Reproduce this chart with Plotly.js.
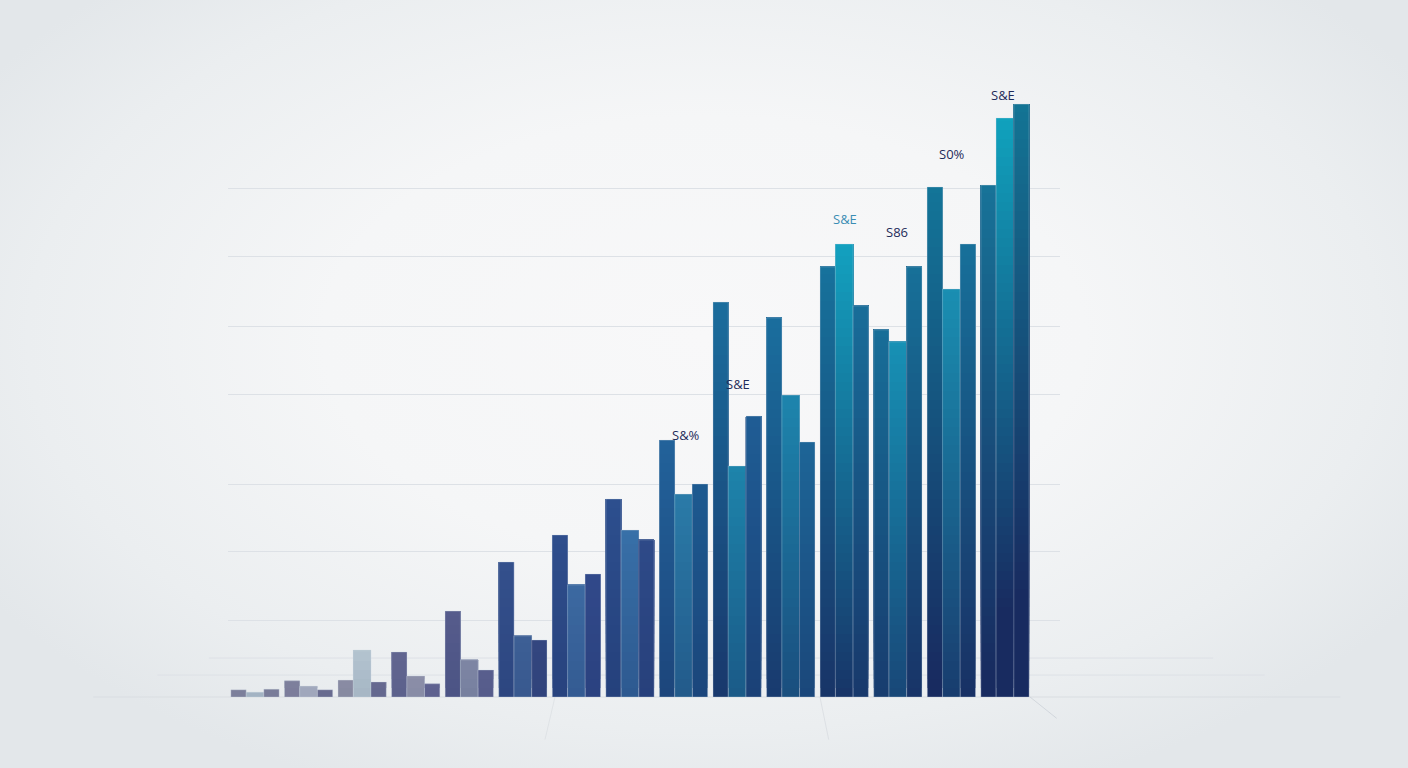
<!DOCTYPE html>
<html>
<head>
<meta charset="utf-8">
<script src="https://cdn.plot.ly/plotly-3.0.1.min.js"></script>
<style>
  html, body {
    margin: 0;
    padding: 0;
    width: 1408px;
    height: 768px;
    overflow: hidden;
    background: radial-gradient(ellipse 60% 64% at 50% 44%, #f8f8f9 0%, #f5f6f7 45%, #ebeef0 80%, #e3e7ea 100%);
  }
  #chart { width: 1408px; height: 768px; }
</style>
</head>
<body>
<div id="chart"></div>
<script>
// Data (heights on a 0-100 scale)
const periods = [1, 2, 3, 4, 5, 6, 7, 8, 9, 10, 11, 12, 13, 14, 15];
const seriesA = [1.2, 2.7, 2.8, 7.5, 14.3, 22.5, 27.0, 33.0, 42.8, 65.8, 63.2, 71.7, 61.2, 85.0, 85.3];
const seriesB = [0.8, 1.8, 7.8, 3.5, 6.2, 10.2, 18.7, 27.8, 33.8, 38.5, 50.3, 75.5, 59.2, 68.0, 96.5];
const seriesC = [1.3, 1.2, 2.5, 2.2, 4.5, 9.5, 20.5, 26.2, 35.5, 46.8, 42.5, 65.2, 71.7, 75.5, 98.8];

const gridLevels = [12.7, 24.3, 35.5, 50.5, 61.8, 73.5, 84.8];

const labelTexts = ['S&%', 'S&E', 'S&E', 'S86', 'S0%', 'S&E'];
const labelX = [9.05, 10.02, 12.01, 12.98, 14.01, 14.97];
const labelY = [43.7, 52.2, 79.7, 77.5, 90.5, 100.3];

// Colours (top of each bar), the bottom fades to navy
const topA = ['#7d7f9b', '#7e7f9c', '#8a8ca3', '#626690', '#565c8c', '#34508c', '#2f4e8c', '#2d4f8e', '#22629a', '#1b6d9d', '#1a6e9e', '#17729c', '#176e98', '#137598', '#177398'];
const topB = ['#a3b3c3', '#a2a9bd', '#b4c4cf', '#8c8fa8', '#7e86a4', '#3d5f95', '#3c69a1', '#3870a8', '#2a7ba8', '#1d84ab', '#1d85ad', '#13a1bf', '#1791b5', '#1a8fb2', '#10a2bd'];
const topC = ['#7a7d99', '#686b8f', '#666990', '#5f6290', '#595e8d', '#33467f', '#31498a', '#2e4a88', '#1d5a90', '#1f5d95', '#1d6597', '#186d99', '#177098', '#17709a', '#137494'];
const navy = '#182b60';

const labelColors = ['#1e2b5a', '#1e2b5a', '#3a8db4', '#1e2b5a', '#1e2b5a', '#1e2b5a'];

function hexToRgb(hex) {
  const n = parseInt(hex.slice(1), 16);
  return [(n >> 16) & 255, (n >> 8) & 255, n & 255];
}

function mix(a, b, t) {
  const ca = hexToRgb(a);
  const cb = hexToRgb(b);
  const c = ca.map((v, i) => Math.round(v + (cb[i] - v) * t));
  return `rgb(${c[0]},${c[1]},${c[2]})`;
}

// one series is drawn as many overlapping bars so it gets a vertical fade
const step = 1.5;
const depthScale = 82; // value units until fully navy

function gradientTraces(values, tops, offset, width) {
  const maxV = Math.max(...values);
  const n = Math.ceil(maxV / step);
  const traces = [];
  for (let k = 0; k < n; k++) {
    const base = [];
    const y = [];
    const colors = [];
    values.forEach((v, i) => {
      const b = k * step;
      if (b >= v) {
        base.push(null);
        y.push(null);
        colors.push('rgba(0,0,0,0)');
        return;
      }
      base.push(b);
      y.push(v - b);
      const depth = Math.max(0, v - (k + 0.5) * step);
      colors.push(mix(tops[i], navy, Math.min(1, depth / depthScale)));
    });
    traces.push({
      type: 'bar',
      x: periods,
      y: y,
      base: base,
      offset: offset,
      width: width,
      marker: { color: colors, line: { width: 0 } },
      hoverinfo: 'skip',
      showlegend: false,
    });
  }
  // thin light edge around the whole bar
  traces.push({
    type: 'bar',
    x: periods,
    y: values,
    offset: offset,
    width: width,
    marker: { color: 'rgba(0,0,0,0)', line: { width: 0.8, color: 'rgba(200,215,228,0.4)' } },
    hoverinfo: 'skip',
    showlegend: false,
  });
  return traces;
}

const data = [
  ...gradientTraces(seriesA, topA, -0.45, 0.285),
  ...gradientTraces(seriesB, topB, -0.165, 0.33),
  ...gradientTraces(seriesC, topC, 0.165, 0.285),
];

const annotations = labelTexts.map((t, i) => ({
  x: labelX[i],
  y: labelY[i],
  xref: 'x',
  yref: 'y',
  text: t,
  showarrow: false,
  xanchor: 'center',
  yanchor: 'middle',
  font: { family: 'Open Sans, DejaVu Sans, sans-serif', size: 13, color: labelColors[i] },
}));

// floor lines below the plot (paper coords), and a few faint perspective strokes
const lineColor = '#dde1e6';
const floorLine = (x0, x1, y, color, width) => ({
  type: 'line', layer: 'below', xref: 'paper', yref: 'paper',
  x0: x0, x1: x1, y0: y, y1: y, line: { color: color, width: width },
});
const stroke = (x0, x1, y1, color) => ({
  type: 'line', layer: 'below', xref: 'paper', yref: 'paper',
  x0: x0, x1: x1, y0: 0, y1: y1, line: { color: color, width: 1 },
});
const shapes = [
  floorLine(-0.023, 1.184, 0.064, lineColor, 1),
  floorLine(-0.085, 1.246, 0.036, lineColor, 1),
  floorLine(-0.162, 1.337, 0, '#d9dde2', 1.2),
  stroke(0.964, 0.996, -0.035, 'rgba(200,205,212,0.7)'),
  stroke(0.7115, 0.722, -0.07, 'rgba(205,210,216,0.5)'),
  stroke(0.393, 0.381, -0.07, 'rgba(205,210,216,0.4)'),
];

const layout = {
  width: 1408,
  height: 768,
  margin: { l: 228, r: 348, t: 88, b: 71, pad: 0 },
  paper_bgcolor: 'rgba(0,0,0,0)',
  plot_bgcolor: 'rgba(0,0,0,0)',
  barmode: 'overlay',
  showlegend: false,
  xaxis: {
    type: 'linear',
    range: [0.496, 16.027],
    showgrid: false,
    zeroline: false,
    showticklabels: false,
    showline: false,
    ticks: '',
    fixedrange: true,
  },
  yaxis: {
    range: [0, 101.5],
    tickmode: 'array',
    tickvals: gridLevels,
    showticklabels: false,
    ticks: '',
    showgrid: true,
    gridcolor: lineColor,
    gridwidth: 1,
    zeroline: false,
    showline: false,
    fixedrange: true,
  },
  annotations: annotations,
  shapes: shapes,
};

Plotly.newPlot('chart', data, layout, { staticPlot: true, displayModeBar: false });
</script>
</body>
</html>
